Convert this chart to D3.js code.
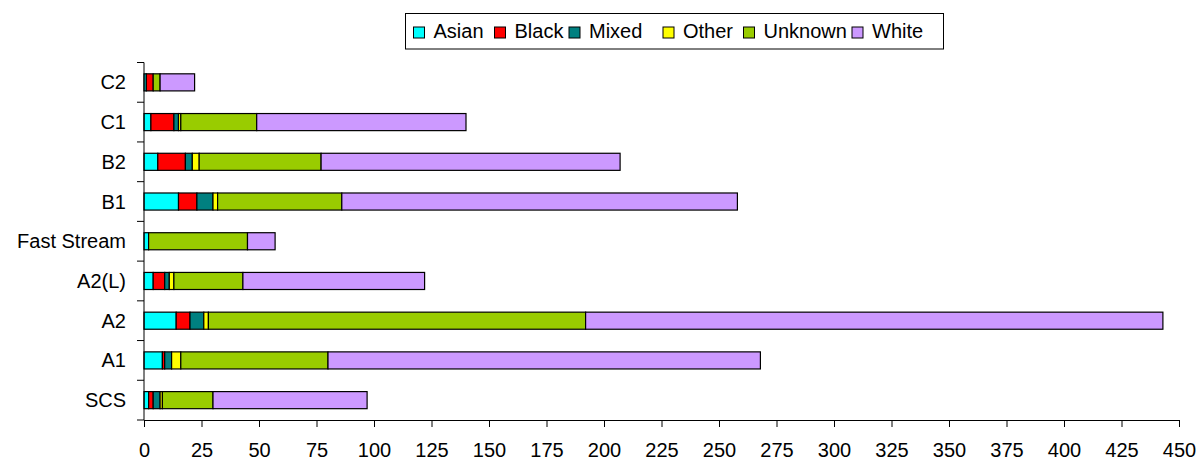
<!DOCTYPE html>
<html>
<head>
<meta charset="utf-8">
<script src="https://cdn.jsdelivr.net/npm/d3@7"></script>
<style>
  html, body { margin: 0; padding: 0; background: #fff; }
  svg { display: block; }
  text { font-family: "Liberation Sans", Arial, sans-serif; fill: #000; }
</style>
</head>
<body>
<script>
// Grades, listed top to bottom
const categories = ["C2", "C1", "B2", "B1", "Fast Stream", "A2(L)", "A2", "A1", "SCS"];

// Ethnic group series (same order as categories)
const seriesNames = ["Asian", "Black", "Mixed", "Other", "Unknown", "White"];
const asian   = [1,  3,  6, 15,  2,  4,  14,  8,  2];
const black   = [3, 10, 12,  8,  0,  5,   6,  1,  2];
const mixed   = [0,  2,  3,  7,  0,  2,   6,  3,  3];
const other   = [0,  1,  3,  2,  0,  2,   2,  4,  1];
const unknown = [3, 33, 53, 54, 43, 30, 164, 64, 22];
const white   = [15, 91, 130, 172, 12, 79, 251, 188, 67];

const xTicks = [0, 25, 50, 75, 100, 125, 150, 175, 200, 225, 250, 275, 300, 325, 350, 375, 400, 425, 450];

const colors = ["#00FFFF", "#FF0000", "#008080", "#FFFF00", "#99CC00", "#CC99FF"];

const W = 1199, H = 461;
const plotLeft = 144, plotRight = 1179, plotTop = 62.5, plotBottom = 420;
const fontSize = 20;

const seriesValues = [asian, black, mixed, other, unknown, white];
const rows = categories.map((c, i) => {
  const r = { cat: c };
  seriesNames.forEach((s, j) => { r[s] = seriesValues[j][i]; });
  return r;
});
const stacked = d3.stack().keys(seriesNames)(rows);

const svg = d3.select("body").append("svg").attr("width", W).attr("height", H);

const x = d3.scaleLinear().domain([0, 450]).range([plotLeft, plotRight]);
const y = d3.scaleBand().domain(categories).range([plotTop, plotBottom])
  .paddingInner(0.57).paddingOuter(0.285);
const step = y.step();

// Stacked bars
const color = d3.scaleOrdinal().domain(seriesNames).range(colors);
svg.append("g").selectAll("g").data(stacked).join("g")
  .attr("fill", d => color(d.key))
  .selectAll("rect").data(d => d.filter(p => p[1] - p[0] > 0)).join("rect")
  .attr("x", d => x(d[0]))
  .attr("y", d => y(d.data.cat))
  .attr("width", d => x(d[1]) - x(d[0]))
  .attr("height", y.bandwidth())
  .attr("stroke", "#000")
  .attr("stroke-width", 1.2);

// Category axis
const yAxis = svg.append("g");
yAxis.append("line").attr("x1", plotLeft).attr("x2", plotLeft).attr("y1", plotTop).attr("y2", plotBottom)
  .attr("stroke", "#000");
d3.range(categories.length + 1).forEach(i => {
  const ty = plotTop + i * step;
  yAxis.append("line").attr("x1", plotLeft - 7).attr("x2", plotLeft).attr("y1", ty).attr("y2", ty)
    .attr("stroke", "#000");
});
yAxis.selectAll("text").data(categories).join("text")
  .attr("x", 126)
  .attr("y", d => y(d) + y.bandwidth() / 2 + 7)
  .attr("text-anchor", "end")
  .attr("font-size", fontSize)
  .text(d => d);

// Value axis
const xAxis = svg.append("g").attr("transform", `translate(0,${plotBottom})`)
  .call(d3.axisBottom(x).tickValues(xTicks).tickSize(7).tickPadding(0).tickFormat(d3.format("d")));
xAxis.select(".domain").attr("stroke", "#000").attr("d", `M${plotLeft},0.5H${plotRight}`);
xAxis.selectAll(".tick line").attr("stroke", "#000");
xAxis.selectAll(".tick text")
  .attr("y", 36.5).attr("dy", null)
  .attr("font-size", fontSize)
  .style("font-family", '"Liberation Sans", Arial, sans-serif')
  .attr("fill", "#000");
xAxis.attr("font-family", null).attr("font-size", null);

// Legend
const legend = svg.append("g");
legend.append("rect").attr("x", 405.5).attr("y", 13.5).attr("width", 538).attr("height", 35.5)
  .attr("fill", "#fff").attr("stroke", "#000");
const legendOffsets = [8, 89, 163.5, 257.5, 338, 446.5];
const items = legend.selectAll("g.item").data(seriesNames).join("g")
  .attr("class", "item")
  .attr("transform", (d, i) => `translate(${405.5 + legendOffsets[i]},0)`);
items.append("rect").attr("x", 0).attr("y", 27).attr("width", 11).attr("height", 11)
  .attr("fill", d => color(d)).attr("stroke", "#000");
items.append("text").attr("x", 20).attr("y", 38.3).attr("font-size", fontSize).text(d => d);
</script>
</body>
</html>
